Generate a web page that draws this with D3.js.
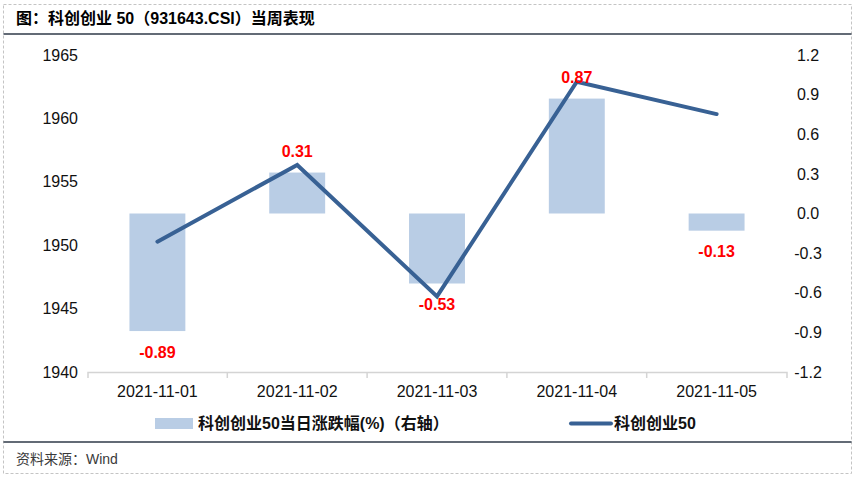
<!DOCTYPE html>
<html>
<head>
<meta charset="utf-8">
<script src="https://cdn.jsdelivr.net/npm/d3@7/dist/d3.min.js"></script>
<style>
  html, body { margin: 0; padding: 0; background: #fff; }
  svg { display: block; font-family: "Liberation Sans", Arial, "Noto Sans CJK SC", sans-serif; }
</style>
</head>
<body>
<svg id="chart" width="858" height="478"></svg>
<script>
const categories = ["2021-11-01", "2021-11-02", "2021-11-03", "2021-11-04", "2021-11-05"];
const dailyChange = [-0.89, 0.31, -0.53, 0.87, -0.13];
const indexLevel = [1950.28, 1956.33, 1945.96, 1962.89, 1960.34];
const leftTicks = [1940, 1945, 1950, 1955, 1960, 1965];
const rightTicks = [-1.2, -0.9, -0.6, -0.3, 0.0, 0.3, 0.6, 0.9, 1.2];
const rightTickLabels = ["-1.2", "-0.9", "-0.6", "-0.3", "0.0", "0.3", "0.6", "0.9", "1.2"];
const barLabels = ["-0.89", "0.31", "-0.53", "0.87", "-0.13"];
const titleText = "图：科创创业 50（931643.CSI）当周表现";
const sourceText = "资料来源：Wind";
const legendBarText = "科创创业50当日涨跌幅(%)（右轴）";
const legendLineText = "科创创业50";

const svg = d3.select("#chart");
const barColor = "#b9cde5";
const lineColor = "#386194";

// frame
svg.append("rect").attr("x", 3.5).attr("y", 4.5).attr("width", 848).attr("height", 469)
  .attr("fill", "none").attr("stroke", "#c4c4c4").attr("stroke-dasharray", "3,2").attr("stroke-width", 1);
svg.append("line").attr("x1", 3.5).attr("x2", 851.5).attr("y1", 34).attr("y2", 34)
  .attr("stroke", "#2f3a48").attr("stroke-width", 1.5);
svg.append("line").attr("x1", 3.5).attr("x2", 851.5).attr("y1", 442).attr("y2", 442)
  .attr("stroke", "#2f3a48").attr("stroke-width", 1.5);
svg.append("text").attr("x", 16).attr("y", 24).attr("font-size", 16).attr("font-weight", "bold")
  .attr("fill", "#000").text(titleText);
svg.append("text").attr("x", 16).attr("y", 464).attr("font-size", 14)
  .attr("fill", "#3a3a3a").text(sourceText);

// scales
const x = d3.scaleBand().domain(categories).range([87.5, 786.5]).paddingInner(0.6).paddingOuter(0.3);
const yL = d3.scaleLinear().domain([1940, 1965]).range([372, 55]);
const yR = d3.scaleLinear().domain([-1.2, 1.2]).range([372, 55]);

// left axis
const gL = svg.append("g").attr("transform", "translate(78,0)")
  .call(d3.axisLeft(yL).tickValues(leftTicks).tickSize(0).tickPadding(0).tickFormat(d3.format("d")));
gL.select(".domain").remove();
gL.selectAll("text").attr("font-size", 16).attr("fill", "#111").attr("font-family", null);

// right axis
const gR = svg.append("g").attr("transform", "translate(793,0)")
  .call(d3.axisRight(yR).tickValues(rightTicks).tickSize(0).tickPadding(0)
    .tickFormat((d, i) => rightTickLabels[i]));
gR.select(".domain").remove();
gR.selectAll("text").attr("font-size", 16).attr("fill", "#111").attr("font-family", null)
  .attr("text-anchor", "middle").attr("x", 15);

// x axis
const gX = svg.append("g").attr("transform", "translate(0,372)")
  .call(d3.axisBottom(x).tickSize(0).tickSizeOuter(6).tickPadding(14));
gX.select(".domain").attr("stroke", "#d4d4d4").attr("stroke-width", 1.5);
gX.selectAll("text").attr("font-size", 16).attr("fill", "#111").attr("font-family", null);
const boundaries = categories.slice(0, -1).map(c => x(c) + x.bandwidth() + (x.step() - x.bandwidth()) / 2);
gX.selectAll(".bound").data(boundaries).enter().append("line")
  .attr("x1", d => d).attr("x2", d => d).attr("y1", 0).attr("y2", 6)
  .attr("stroke", "#d4d4d4").attr("stroke-width", 1.5);

// bars
svg.append("g").selectAll("rect").data(dailyChange).enter().append("rect")
  .attr("x", (d, i) => x(categories[i]))
  .attr("width", x.bandwidth())
  .attr("y", d => Math.min(yR(d), yR(0)))
  .attr("height", d => Math.abs(yR(d) - yR(0)))
  .attr("fill", barColor);

// line
const line = d3.line().x((d, i) => x(categories[i]) + x.bandwidth() / 2).y(d => yL(d));
svg.append("path").datum(indexLevel).attr("d", line).attr("fill", "none")
  .attr("stroke", lineColor).attr("stroke-width", 4).attr("stroke-linecap", "round").attr("stroke-linejoin", "miter");

// bar labels
svg.append("g").selectAll("text").data(dailyChange).enter().append("text")
  .attr("x", (d, i) => x(categories[i]) + x.bandwidth() / 2)
  .attr("y", d => d >= 0 ? yR(d) - 21 : yR(d) + 21)
  .attr("dy", "0.35em")
  .attr("text-anchor", "middle")
  .attr("font-size", 16).attr("font-weight", "bold").attr("fill", "#ff0000")
  .text((d, i) => barLabels[i]);

// legend
const lg = svg.append("g");
lg.append("rect").attr("x", 155).attr("y", 418).attr("width", 38).attr("height", 11).attr("fill", barColor);
lg.append("text").attr("x", 198).attr("y", 429).attr("font-size", 16).attr("font-weight", "bold")
  .attr("fill", "#111").text(legendBarText);
lg.append("line").attr("x1", 571).attr("x2", 611).attr("y1", 423.5).attr("y2", 423.5)
  .attr("stroke", lineColor).attr("stroke-width", 4).attr("stroke-linecap", "round");
lg.append("text").attr("x", 614).attr("y", 429).attr("font-size", 16).attr("font-weight", "bold")
  .attr("fill", "#111").text(legendLineText);
</script>
</body>
</html>
